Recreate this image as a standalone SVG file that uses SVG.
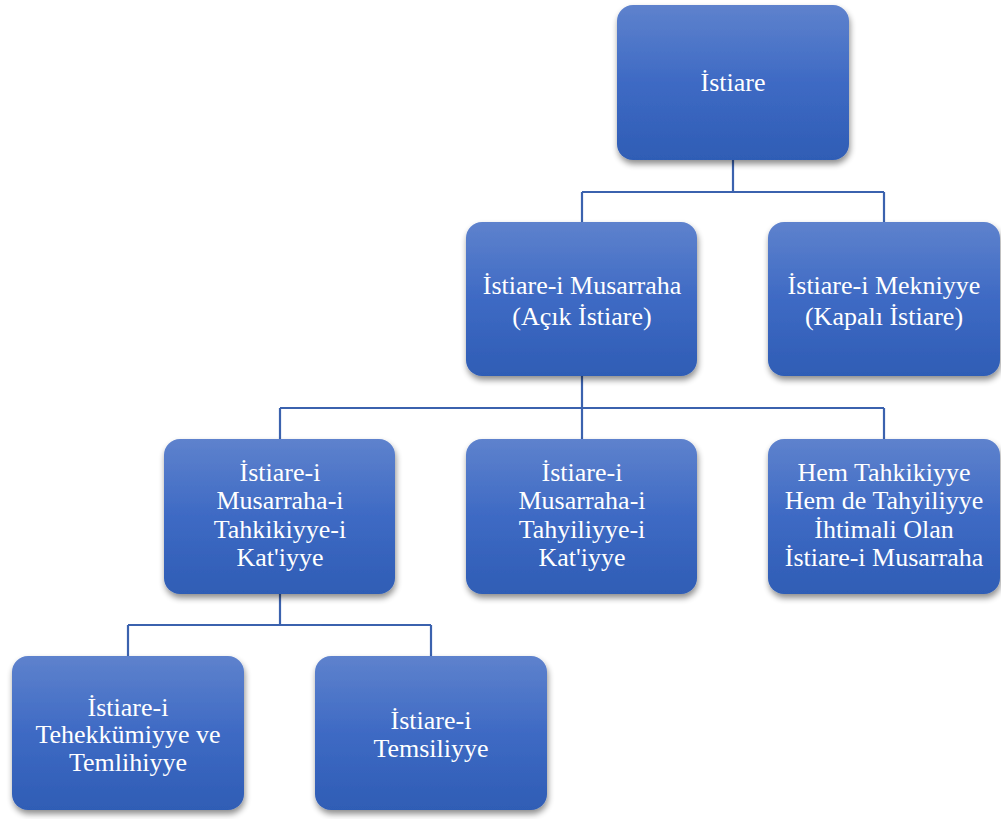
<svg xmlns="http://www.w3.org/2000/svg" width="1001" height="819" viewBox="0 0 1001 819">
  <defs>
    <linearGradient id="boxFill" x1="0" y1="0" x2="0" y2="1">
      <stop offset="0" stop-color="#5e82cd"/>
      <stop offset="0.5" stop-color="#3e6ac4"/>
      <stop offset="1" stop-color="#2f5db5"/>
    </linearGradient>
    <filter id="shadow" x="-10%" y="-10%" width="125%" height="130%">
      <feGaussianBlur in="SourceAlpha" stdDeviation="3"/>
      <feOffset dx="1" dy="4" result="b"/>
      <feComponentTransfer><feFuncA type="linear" slope="0.45"/></feComponentTransfer>
      <feMerge><feMergeNode/><feMergeNode in="SourceGraphic"/></feMerge>
    </filter>
  </defs>
  <style>
    .box { fill: url(#boxFill); filter: url(#shadow); }
    .lbl { font-family: "Liberation Serif", "Times New Roman", serif; font-size: 26px; fill: #ffffff; text-anchor: middle; }
    .conn { fill: none; stroke: #3b62ae; stroke-width: 2.2; }
  </style>
  <rect width="1001" height="819" fill="#ffffff"/>

  <g id="connectors">
    <path class="conn" d="M733 160 V192 M582 192 H884 M582 192 V222 M884 192 V222"/>
    <path class="conn" d="M582 376 V408 M280 408 H884 M280 408 V439 M582 408 V439 M884 408 V439"/>
    <path class="conn" d="M280 594 V625 M128 625 H431 M128 625 V656 M431 625 V656"/>
  </g>

  <g id="node-istiare">
    <rect class="box" x="617" y="5" width="232" height="155" rx="16"/>
    <text class="lbl" x="733" y="91">İstiare</text>
  </g>
  <g id="node-musarraha">
    <rect class="box" x="466" y="222" width="231" height="154" rx="16"/>
    <text class="lbl" x="582" y="294">İstiare-i Musarraha</text>
    <text class="lbl" x="582" y="325">(Açık İstiare)</text>
  </g>
  <g id="node-mekniyye">
    <rect class="box" x="768" y="222" width="232" height="154" rx="16"/>
    <text class="lbl" x="884" y="294">İstiare-i Mekniyye</text>
    <text class="lbl" x="884" y="325">(Kapalı İstiare)</text>
  </g>
  <g id="node-tahkikiyye">
    <rect class="box" x="164" y="439" width="231" height="155" rx="16"/>
    <text class="lbl" x="280" y="481">İstiare-i</text>
    <text class="lbl" x="280" y="509">Musarraha-i</text>
    <text class="lbl" x="280" y="538">Tahkikiyye-i</text>
    <text class="lbl" x="280" y="566">Kat'iyye</text>
  </g>
  <g id="node-tahyiliyye">
    <rect class="box" x="466" y="439" width="231" height="155" rx="16"/>
    <text class="lbl" x="582" y="481">İstiare-i</text>
    <text class="lbl" x="582" y="509">Musarraha-i</text>
    <text class="lbl" x="582" y="538">Tahyiliyye-i</text>
    <text class="lbl" x="582" y="566">Kat'iyye</text>
  </g>
  <g id="node-ihtimali">
    <rect class="box" x="768" y="439" width="232" height="155" rx="16"/>
    <text class="lbl" x="884" y="481">Hem Tahkikiyye</text>
    <text class="lbl" x="884" y="509">Hem de Tahyiliyye</text>
    <text class="lbl" x="884" y="538">İhtimali Olan</text>
    <text class="lbl" x="884" y="566">İstiare-i Musarraha</text>
  </g>
  <g id="node-tehekkumiyye">
    <rect class="box" x="12" y="656" width="232" height="154" rx="16"/>
    <text class="lbl" x="128" y="716">İstiare-i</text>
    <text class="lbl" x="128" y="743">Tehekkümiyye ve</text>
    <text class="lbl" x="128" y="771">Temlihiyye</text>
  </g>
  <g id="node-temsiliyye">
    <rect class="box" x="315" y="656" width="232" height="154" rx="16"/>
    <text class="lbl" x="431" y="729">İstiare-i</text>
    <text class="lbl" x="431" y="757">Temsiliyye</text>
  </g>
</svg>
